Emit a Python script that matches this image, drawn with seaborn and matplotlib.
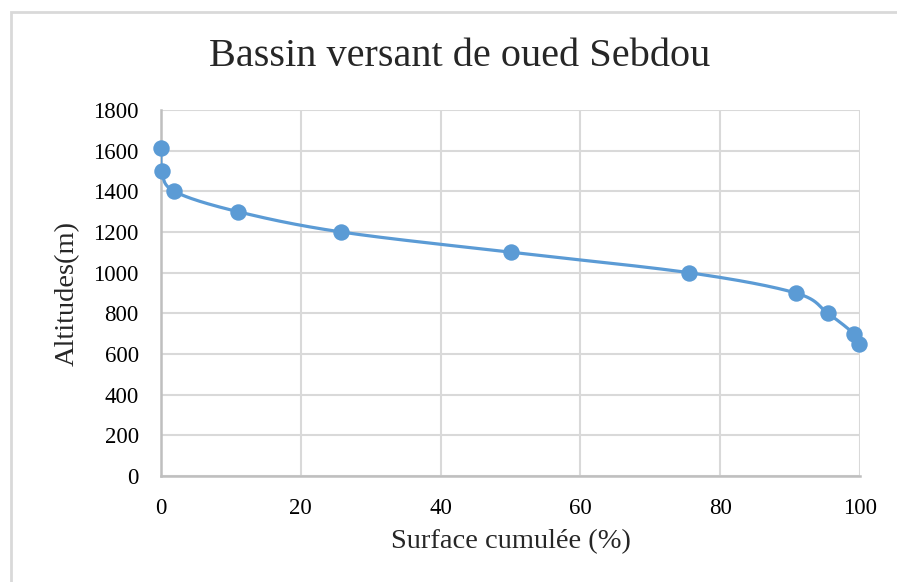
import numpy as np
import pandas as pd
import matplotlib
matplotlib.use('Agg')
import matplotlib.pyplot as plt
import seaborn as sns
from matplotlib.patches import Rectangle

# Données : surface cumulée (%) et altitudes (m)
surface = [0.0, 0.15, 1.9, 11.0, 25.8, 50.1, 75.5, 90.8, 95.4, 99.1, 99.9]
altitude = [1615, 1500, 1400, 1300, 1200, 1100, 1000, 900, 800, 700, 650]
x_ticks = [0, 20, 40, 60, 80, 100]
y_ticks = [0, 200, 400, 600, 800, 1000, 1200, 1400, 1600, 1800]

data = pd.DataFrame({'surface': surface, 'altitude': altitude})

sns.set_style('white')
plt.rcParams['font.family'] = ['Liberation Serif', 'DejaVu Serif']

color = '#5b9bd5'

fig = plt.figure(figsize=(8.97, 5.82), dpi=100)
ax = fig.add_axes([161 / 897, 1 - 476 / 582, 699 / 897, 366 / 582])

ax.set_xlim(0, 100)
ax.set_ylim(0, 1800)


# Courbe lissée (style Excel) calculée en coordonnées écran
def smooth_curve(xs, ys, n=40):
    px = np.array(xs) / 100 * 699
    py = np.array(ys) / 1800 * 366
    P = np.column_stack([px, py])
    P = np.vstack([P[0], P, P[-1]])
    pts = []
    t = np.linspace(0, 1, n)[:, None]
    for i in range(1, len(P) - 2):
        p0, p1, p2, p3 = P[i - 1], P[i], P[i + 1], P[i + 2]
        c1 = p1 + (p2 - p0) / 6
        c2 = p2 - (p3 - p1) / 6
        seg = ((1 - t) ** 3) * p1 + 3 * ((1 - t) ** 2) * t * c1 + 3 * (1 - t) * t ** 2 * c2 + t ** 3 * p2
        pts.append(seg)
    pts = np.vstack(pts)
    return pts[:, 0] / 699 * 100, pts[:, 1] / 366 * 1800


cx, cy = smooth_curve(surface, altitude)
ax.plot(cx, cy, color=color, lw=2.3, zorder=3, solid_capstyle='round')

sns.scatterplot(data=data, x='surface', y='altitude', ax=ax, color=color,
                s=140, edgecolor=color, linewidth=0, zorder=4, clip_on=False)

ax.set_xticks(x_ticks)
ax.set_yticks(y_ticks)
ax.tick_params(axis='both', length=0, labelsize=16.5, colors='#000000', pad=16)
ax.grid(True, color='#d9d9d9', lw=1.5)
ax.set_axisbelow(True)
for side in ['top', 'right']:
    ax.spines[side].set_visible(False)
for side in ['left', 'bottom']:
    ax.spines[side].set_color('#bfbfbf')
    ax.spines[side].set_linewidth(1.8)

ax.set_xlabel('Surface cumulée (%)', fontsize=20.5)
ax.set_ylabel('Altitudes(m)', fontsize=20.5)
ax.xaxis.set_label_coords(0.5, -(542 - 476) / 366, transform=ax.transAxes)
ax.yaxis.set_label_coords(-(161 - 67) / 699, 0.5, transform=ax.transAxes)
ax.xaxis.label.set_va('center')
ax.yaxis.label.set_va('center')

fig.text(460 / 897, 1 - 56 / 582, 'Bassin versant de oued Sebdou', fontsize=29,
         ha='center', va='center')

# Cadre gris du graphique
fig.patches.append(Rectangle((10.5 / 897, -0.1), 1.2, 1 - 12 / 582 + 0.1,
                             transform=fig.transFigure, fill=False,
                             edgecolor='#d9d9d9', lw=2))

fig.savefig('out.png', dpi=100)
